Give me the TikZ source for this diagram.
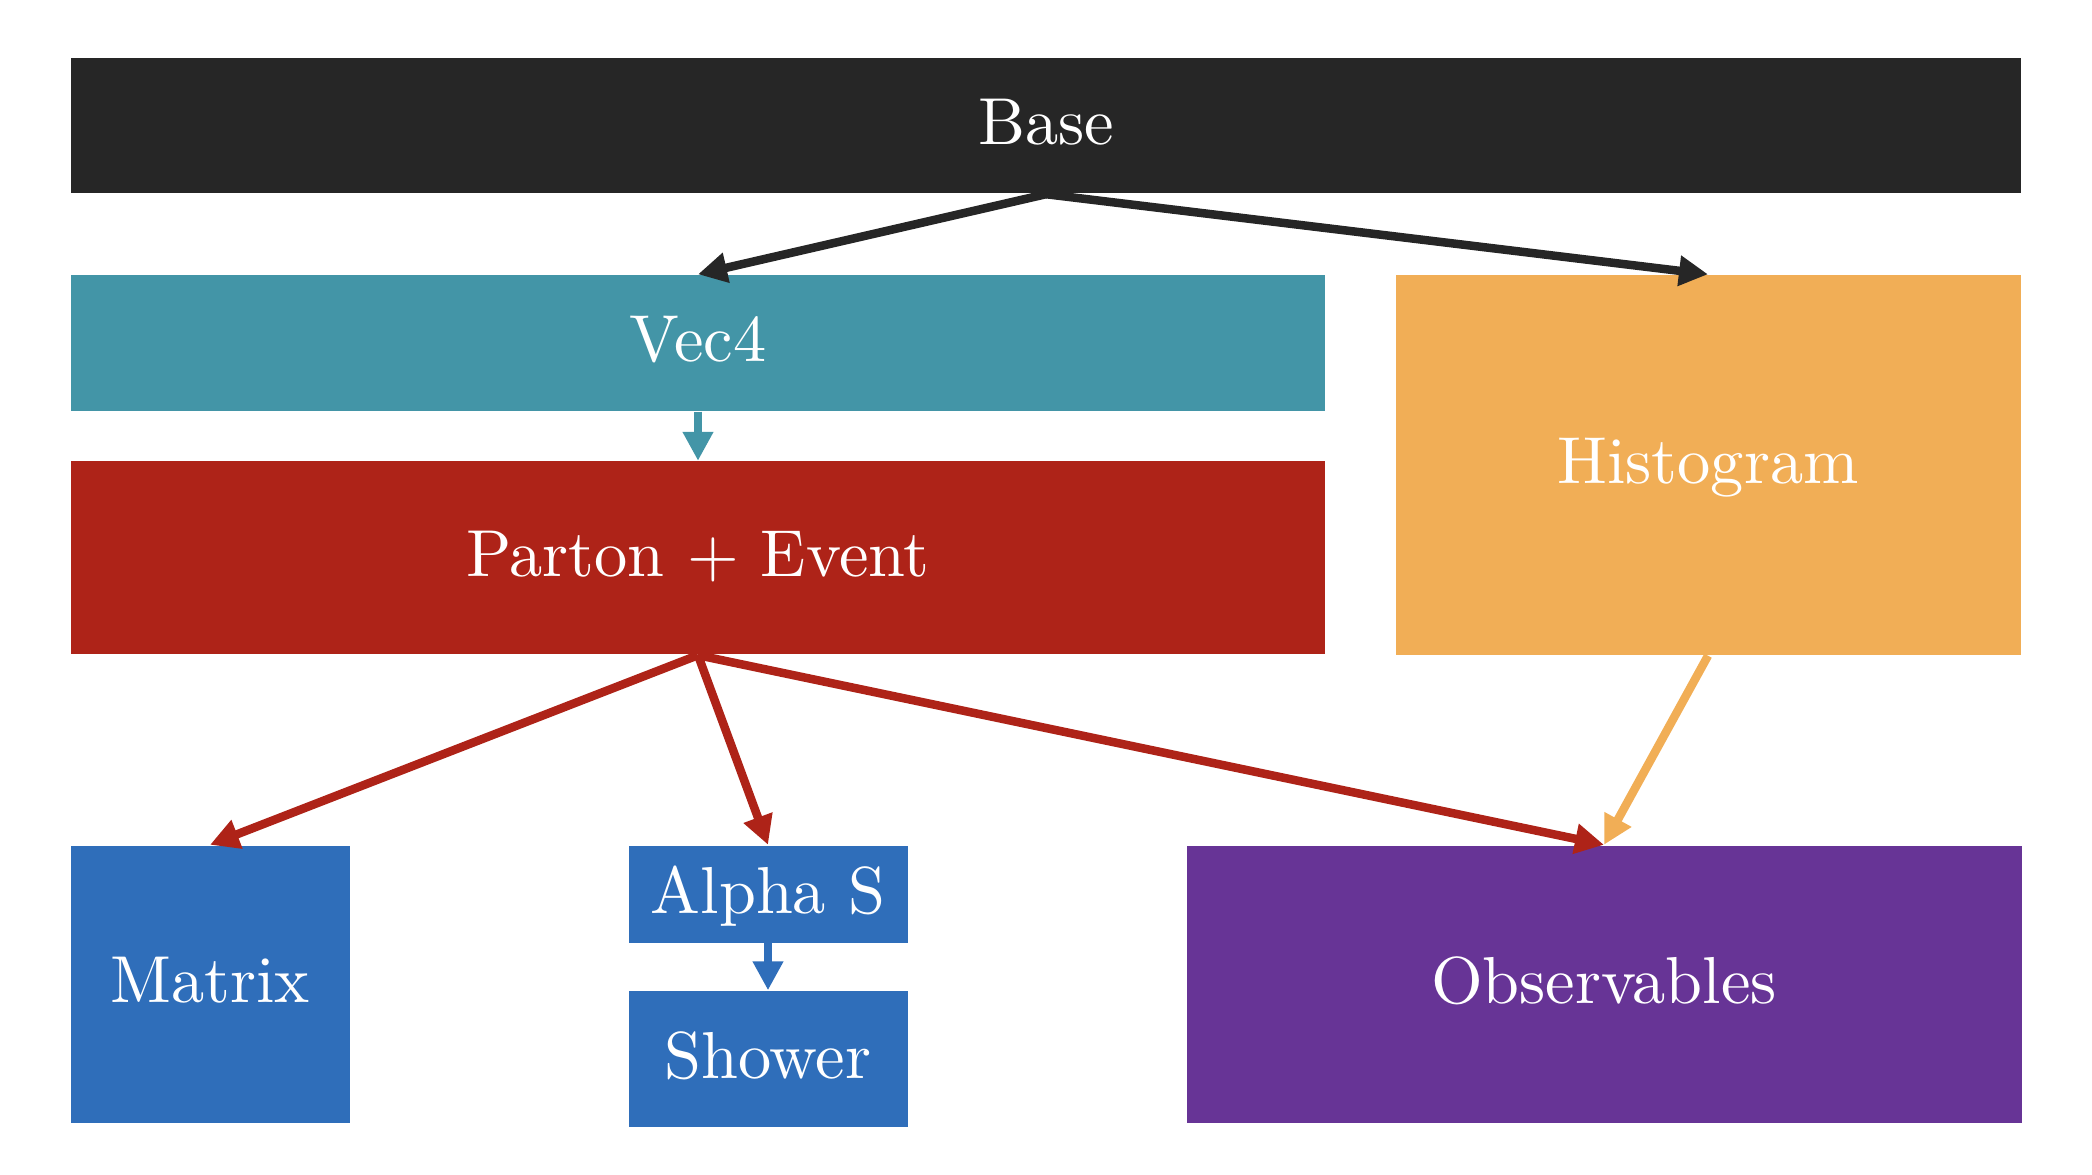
\documentclass[tikz,border=0pt]{standalone}
\usepackage{xcolor}
\usepackage{tikz}
\usetikzlibrary{arrows.meta,positioning}

\definecolor{baseblack}{RGB}{38,38,38}
\definecolor{vecteal}{RGB}{67,149,167}
\definecolor{partonred}{RGB}{174,35,24}
\definecolor{historange}{RGB}{241,174,86}
\definecolor{showerblue}{RGB}{47,110,186}
\definecolor{obspurple}{RGB}{103,52,150}

\font\blockfont="[lmroman10-regular.otf]" at 18.9pt

\tikzset{
    block/.style={rectangle, inner sep=0pt, text=white, font=\blockfont, text depth=2.4pt},
    link/.style={line width=0.85mm, -{Triangle[length=2.9mm,width=2.9mm]}}
}

\begin{document}
\begin{tikzpicture}
    \useasboundingbox (0,0) rectangle (20.92,11.74);

    % Top
    \node[block, fill=baseblack, minimum width=19.50cm, minimum height=1.35cm] (base) at (10.46,10.48) {Base};

    % Middle
    \node[block, fill=vecteal, minimum width=12.54cm, minimum height=1.36cm] (vec) at (6.98,8.31) {Vec4};
    \node[block, fill=partonred, minimum width=12.54cm, minimum height=1.93cm] (parton) at (6.98,6.16) {Parton + Event};
    \node[block, fill=historange, minimum width=6.25cm, minimum height=3.80cm] (hist) at (17.08,7.09) {Histogram};

    % Bottom
    \node[block, fill=showerblue, minimum width=2.79cm, minimum height=2.77cm] (matrix) at (2.10,1.90) {Matrix};
    \node[block, fill=showerblue, minimum width=2.79cm, minimum height=0.97cm] (alphas) at (7.68,2.80) {Alpha S};
    \node[block, fill=showerblue, minimum width=2.79cm, minimum height=1.36cm] (shower) at (7.68,1.15) {Shower};
    \node[block, fill=obspurple, minimum width=8.35cm, minimum height=2.77cm] (obs) at (16.04,1.90) {Observables};

    % Arrows
    \draw[link, baseblack] (base.south) -- (vec.north);
    \draw[link, baseblack] (base.south) -- (hist.north);
    \draw[link, vecteal] (vec.south) -- (parton.north);
    \draw[link, partonred] (parton.south) -- (matrix.north);
    \draw[link, partonred] (parton.south) -- (alphas.north);
    \draw[link, partonred] (parton.south) -- (obs.north);
    \draw[link, historange] (hist.south) -- (obs.north);
    \draw[link, showerblue] (alphas.south) -- (shower.north);
\end{tikzpicture}
\end{document}
